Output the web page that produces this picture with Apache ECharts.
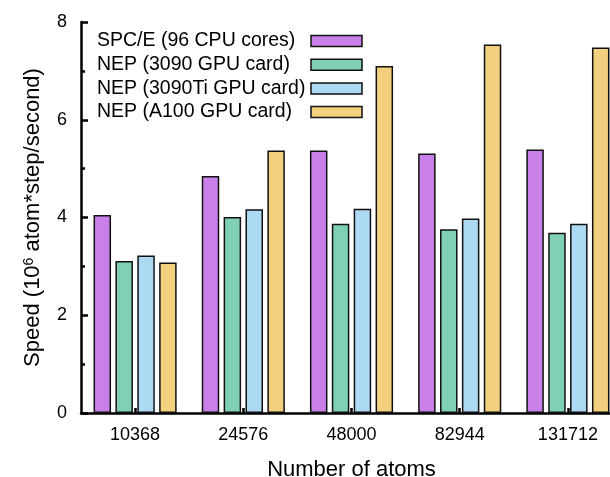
<!DOCTYPE html>
<html>
<head>
<meta charset="utf-8">
<script src="https://cdn.jsdelivr.net/npm/echarts@6/dist/echarts.min.js"></script>
<style>
html,body{margin:0;padding:0;background:#fff;}
#chart{width:610px;height:477px;}
</style>
</head>
<body>
<div id="chart"></div>
<script>
const categories = ['10368', '24576', '48000', '82944', '131712'];
const seriesNames = ['SPC/E (96 CPU cores)', 'NEP (3090 GPU card)', 'NEP (3090Ti GPU card)', 'NEP (A100 GPU card)'];
const spce = [4.05, 4.85, 5.37, 5.31, 5.39];
const nep3090 = [3.11, 4.01, 3.87, 3.76, 3.69];
const nep3090ti = [3.22, 4.17, 4.18, 3.98, 3.87];
const nepA100 = [3.08, 5.37, 7.10, 7.54, 7.48];
const colors = ['#c97fe8', '#80d0b8', '#acdaf2', '#f2d07e'];
const yTicks = [0, 2, 4, 6, 8];

const font = 'Liberation Sans, Arial, sans-serif';
const chart = echarts.init(document.getElementById('chart'), null, {renderer: 'canvas'});
const allData = [spce, nep3090, nep3090ti, nepA100];

chart.setOption({
  animation: false,
  backgroundColor: '#ffffff',
  textStyle: {fontFamily: font, color: '#000'},
  legend: {
    orient: 'vertical',
    left: 97,
    top: 31,
    padding: 0,
    itemWidth: 51,
    itemHeight: 11,
    itemGap: 3.7,
    align: 'right',
    icon: 'rect',
    data: seriesNames,
    formatter: function (n) { return '{a|' + n + '}'; },
    textStyle: {
      fontFamily: font, fontSize: 19.5, color: '#000',
      rich: {a: {fontFamily: font, fontSize: 19.5, color: '#000', width: 209, align: 'left', lineHeight: 18}}
    },
    itemStyle: {borderColor: '#111', borderWidth: 1.5}
  },
  grid: {left: 81, top: 22, height: 391, width: 541, containLabel: false, outerBoundsMode: 'none'},
  xAxis: {
    type: 'category',
    data: categories,
    boundaryGap: true,
    name: 'Number of atoms',
    nameLocation: 'middle',
    nameGap: 46,
    nameTextStyle: {fontFamily: font, fontSize: 22, color: '#000'},
    axisLine: {show: true, lineStyle: {color: '#000', width: 2.5}},
    axisTick: {show: true, inside: true, alignWithLabel: true, length: 5, lineStyle: {color: '#000', width: 2.5}},
    axisLabel: {fontFamily: font, fontSize: 18, color: '#000', margin: 13},
    splitLine: {show: false}
  },
  yAxis: {
    type: 'value',
    min: 0,
    max: 8,
    interval: 2,
    name: 'Speed (10{sup|6} atom*step/second)',
    nameLocation: 'middle',
    nameRotate: 90,
    nameGap: 37,
    nameTextStyle: {
      fontFamily: font, fontSize: 22, color: '#000',
      rich: {sup: {fontFamily: font, fontSize: 14, color: '#000', verticalAlign: 'top', lineHeight: 22, padding: [0, 0, 8, 0]}}
    },
    axisLine: {show: true, lineStyle: {color: '#000', width: 2.5}},
    axisTick: {show: true, inside: true, length: 7, lineStyle: {color: '#000', width: 2.5}},
    minorTick: {show: true, splitNumber: 2, length: 4, lineStyle: {color: '#000', width: 2.5}},
    axisLabel: {
      fontFamily: font, fontSize: 18, color: '#000', margin: 14,
      formatter: function (v) { return yTicks.indexOf(v) >= 0 ? String(v) : ''; }
    },
    splitLine: {show: false}
  },
  series: seriesNames.map(function (name, i) {
    return {
      name: name,
      type: 'bar',
      data: allData[i],
      barWidth: 17.5,
      barGap: '25%',
      itemStyle: {color: colors[i], borderColor: '#111', borderWidth: 1.5}
    };
  })
});
</script>
</body>
</html>
